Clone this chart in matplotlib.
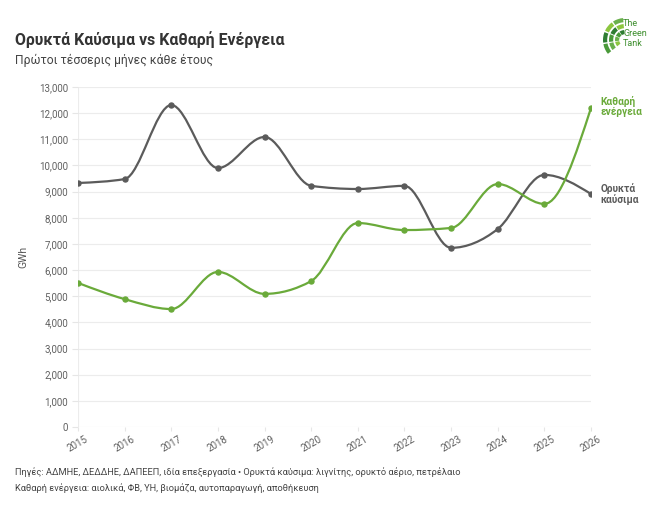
import numpy as np
import matplotlib
matplotlib.use("Agg")
import matplotlib.pyplot as plt
from matplotlib.path import Path
from matplotlib.patches import PathPatch, Wedge

plt.rcParams['font.family'] = ['Roboto', 'DejaVu Sans']

years = [2015, 2016, 2017, 2018, 2019, 2020, 2021, 2022, 2023, 2024, 2025, 2026]
fossil = [9330, 9480, 12310, 9900, 11090, 9220, 9100, 9220, 6850, 7570, 9640, 8910]
clean = [5510, 4890, 4510, 5930, 5090, 5580, 7800, 7530, 7610, 9290, 8530, 12200]
yticks = list(range(0, 13001, 1000))

GRAY = '#5b5b5b'
GREEN = '#6aaa3a'


def monotone_path(xs, ys):
    xs = np.asarray(xs, float); ys = np.asarray(ys, float)
    n = len(xs)
    h = np.diff(xs); s = np.diff(ys) / h
    t = np.zeros(n)
    for i in range(1, n - 1):
        h0, h1 = h[i - 1], h[i]
        s0, s1 = s[i - 1], s[i]
        p = (s0 * h1 + s1 * h0) / (h0 + h1)
        t[i] = (np.sign(s0) + np.sign(s1)) * min(abs(s0), abs(s1), 0.5 * abs(p))
    t[0] = (3 * s[0] - t[1]) / 2
    t[-1] = (3 * s[-1] - t[-2]) / 2
    verts = [(xs[0], ys[0])]
    codes = [Path.MOVETO]
    for i in range(n - 1):
        dx = (xs[i + 1] - xs[i]) / 3
        verts += [(xs[i] + dx, ys[i] + dx * t[i]),
                  (xs[i + 1] - dx, ys[i + 1] - dx * t[i + 1]),
                  (xs[i + 1], ys[i + 1])]
        codes += [Path.CURVE4] * 3
    return Path(verts, codes)


fig = plt.figure(figsize=(6.61, 5.08), dpi=100)
ax = fig.add_axes([78 / 661, 1 - 427 / 508, (591 - 78) / 661, (427 - 87) / 508])

for vals, col in [(fossil, GRAY), (clean, GREEN)]:
    ax.add_patch(PathPatch(monotone_path(years, vals), fill=False, edgecolor=col, lw=1.6,
                           capstyle='round', joinstyle='round', zorder=3))
    ax.plot(years, vals, 'o', color=col, ms=3.6, zorder=4)

ax.set_xlim(2015, 2026)
ax.set_ylim(0, 13000)
ax.set_yticks(yticks)
ax.set_yticklabels([f"{v:,}" for v in yticks])
ax.set_xticks(years)
ax.set_xticklabels([str(y) for y in years], rotation=30, ha='center')
ax.grid(axis='y', color='#ececec', lw=0.8)
ax.axvline(2015, color='#ececec', lw=0.8, zorder=0)
for sp in ax.spines.values():
    sp.set_visible(False)
ax.tick_params(axis='y', length=4, color='#e6e6e6', labelsize=7, labelcolor='#606060', pad=3)
ax.tick_params(axis='x', length=3, color='#e6e6e6', labelsize=7, labelcolor='#606060', pad=2)
ax.set_ylabel('GWh', fontsize=7.5, color='#555555', labelpad=8)

ax.annotate('Καθαρή\nενέργεια', xy=(2026, clean[-1]), xytext=(7, 1), textcoords='offset points',
            color=GREEN, fontsize=7.3, fontweight='bold', va='center', ha='left',
            annotation_clip=False, linespacing=1.0)
ax.annotate('Ορυκτά\nκαύσιμα', xy=(2026, fossil[-1]), xytext=(7, 0), textcoords='offset points',
            color=GRAY, fontsize=7.3, fontweight='bold', va='center', ha='left',
            annotation_clip=False, linespacing=1.0)

fig.text(15 / 661, 1 - 40 / 508, 'Ορυκτά Καύσιμα vs Καθαρή Ενέργεια', fontsize=11.4,
         fontweight='bold', color='#333333', va='center', ha='left')
fig.text(15 / 661, 1 - 60 / 508, 'Πρώτοι τέσσερις μήνες κάθε έτους', fontsize=8.7,
         color='#444444', va='center', ha='left')
fig.text(15 / 661, 1 - 472 / 508,
         'Πηγές: ΑΔΜΗΕ, ΔΕΔΔΗΕ, ΔΑΠΕΕΠ, ιδία επεξεργασία • Ορυκτά καύσιμα: λιγνίτης, ορυκτό αέριο, πετρέλαιο',
         fontsize=6.7, color='#444444', va='center', ha='left')
fig.text(15 / 661, 1 - 488 / 508,
         'Καθαρή ενέργεια: αιολικά, ΦΒ, ΥΗ, βιομάζα, αυτοπαραγωγή, αποθήκευση',
         fontsize=6.7, color='#444444', va='center', ha='left')

# logo
lax = fig.add_axes([603 / 661, 1 - 54 / 508, 46 / 661, 36 / 508])
lax.set_xlim(0, 46); lax.set_ylim(0, 36); lax.axis('off')
shades = ['#8cc63f', '#6ab04c', '#4a9a3a', '#2e7d32']
for r_i, (r0, r1) in enumerate([(5, 10), (11, 16), (17, 22)]):
    for k, (a0, a1) in enumerate([(95, 123), (127, 155), (159, 187), (191, 219)]):
        lax.add_patch(Wedge((22, 14), r1, a0, a1, width=r1 - r0 - 0.8,
                            color=shades[(3 - k + r_i) % 4], lw=0))
lax.text(20, 31, 'The', color='#3f8f2f', fontsize=6.5, va='center', ha='left')
lax.text(20, 21, 'Green', color='#3f8f2f', fontsize=6.5, va='center', ha='left')
lax.text(20, 11, 'Tank', color='#3f8f2f', fontsize=6.5, va='center', ha='left')

fig.savefig('out.png', dpi=100, facecolor='white')
